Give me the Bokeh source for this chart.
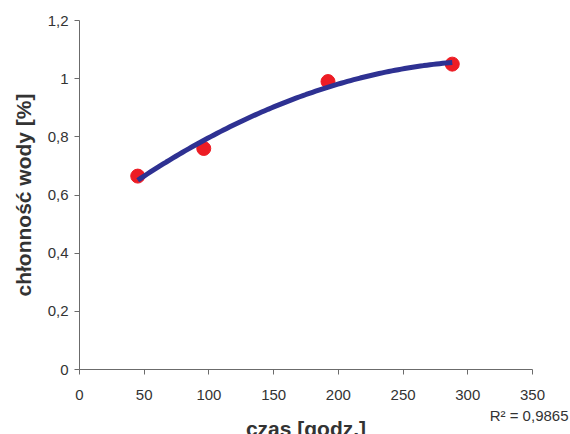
import numpy as np
from bokeh.plotting import figure
from bokeh.models import FixedTicker, Range1d, Title
from bokeh.embed import file_html
from bokeh.resources import INLINE

# data
czas = [45, 96, 192, 288]
chlonnosc = [0.665, 0.76, 0.99, 1.05]
x_ticks = [0, 50, 100, 150, 200, 250, 300, 350]
y_ticks = [0, 0.2, 0.4, 0.6, 0.8, 1.0, 1.2]
y_tick_labels = ["0", "0,2", "0,4", "0,6", "0,8", "1", "1,2"]
r2_text = "R\u00b2 = 0,9865"
x_label = "czas [godz.]"
y_label = "chłonność wody [%]"

FONT = "Liberation Sans"
W, H = 570, 434

p = figure(width=W, height=H, output_backend="svg", toolbar_location=None,
           x_range=Range1d(0, 350), y_range=Range1d(0, 1.2),
           min_border_left=79, min_border_right=38, min_border_top=20, min_border_bottom=65)
p.outline_line_color = None
p.xgrid.visible = False
p.ygrid.visible = False
p.background_fill_color = "white"
p.border_fill_color = "white"

# trend line (2nd order polynomial fit)
coef = np.polyfit(czas, chlonnosc, 2)
xs = np.linspace(min(czas), max(czas), 100)
ys = np.polyval(coef, xs)

p.scatter(czas, chlonnosc, size=14, fill_color="#ED1C24", line_color="#ED1C24")
p.line(xs, ys, line_color="#2E3192", line_width=5)

for ax in (p.xaxis[0], p.yaxis[0]):
    ax.axis_line_color = "#6b6b6b"
    ax.major_tick_line_color = "#6b6b6b"
    ax.minor_tick_line_color = None
    ax.major_tick_in = 0
    ax.major_tick_out = 5
    ax.major_label_text_font = FONT
    ax.major_label_text_font_size = "15px"
    ax.major_label_text_color = "#333333"
    ax.axis_label_text_font = FONT
    ax.axis_label_text_font_size = "21px"
    ax.axis_label_text_font_style = "bold"
    ax.axis_label_text_color = "#333333"

p.xaxis.ticker = FixedTicker(ticks=x_ticks)
p.yaxis.ticker = FixedTicker(ticks=y_ticks)
p.yaxis.major_label_overrides = {t: l for t, l in zip(y_ticks, y_tick_labels)}
p.xaxis.major_label_standoff = 15
p.yaxis.major_label_standoff = 6
p.yaxis.axis_label = y_label
p.yaxis.axis_label_standoff = 10

r2_title = Title(text=r2_text, align="right", offset=-36, standoff=4,
                 text_font=FONT, text_font_size="15px", text_font_style="normal",
                 text_color="#333333")
x_title = Title(text=x_label, align="center", standoff=-29,
                text_font=FONT, text_font_size="21px", text_font_style="bold",
                text_color="#333333")
p.add_layout(r2_title, "below")
p.add_layout(x_title, "below")

open("out.html", "w").write(file_html(p, INLINE))
